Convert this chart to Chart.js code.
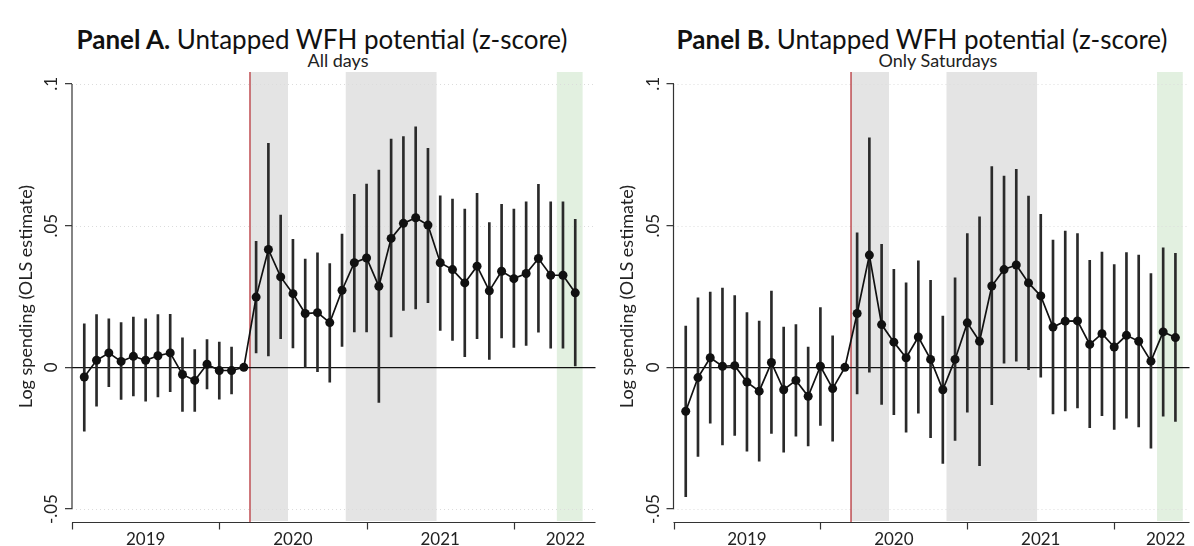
<!DOCTYPE html>
<html>
<head>
<meta charset="utf-8">
<script src="https://cdn.jsdelivr.net/npm/chart.js@4.4.1/dist/chart.umd.min.js"></script>
<style>
  body { margin: 0; background: #fff; width: 1194px; height: 546px; overflow: hidden; position: relative; font-family: Lato, sans-serif; color: #111; }
  .box { position: absolute; top: 0; height: 546px; }
  .title { position: absolute; top: 26px; font-size: 26px; line-height: 26px; white-space: nowrap; transform: translateX(-50%); }
  .title b { font-weight: 700; }
  .sub { position: absolute; top: 51px; font-size: 18px; line-height: 18px; white-space: nowrap; transform: translateX(-50%); color: #222; }
</style>
</head>
<body>
<div class="title" style="left:322px"><b>Panel A.</b> Untapped WFH potential (z-score)</div>
<div class="sub" style="left:338px">All days</div>
<div class="title" style="left:922px"><b>Panel B.</b> Untapped WFH potential (z-score)</div>
<div class="sub" style="left:938px">Only Saturdays</div>
<div class="box" style="left:0;width:600px"><canvas id="chartA"></canvas></div>
<div class="box" style="left:600px;width:594px"><canvas id="chartB"></canvas></div>
<script>
// months since Jan 2019 (0 = Jan 2019, 13 = Feb 2020 reference month)
var months = [0,1,2,3,4,5,6,7,8,9,10,11,12,13,14,15,16,17,18,19,20,
              21,22,23,24,25,26,27,28,29,30,31,32,33,34,35,36,37,38,39,40];

// Panel A: all days
var estA = [-0.0034,0.0025,0.0051,0.0021,0.0039,0.0025,0.0041,0.0051,-0.0025,-0.0046,0.0011,
            -0.0011,-0.0011,0,0.0248,0.0416,0.0319,0.0260,0.0190,0.0193,0.0158,
            0.0272,0.0369,0.0386,0.0286,0.0455,0.0508,0.0528,0.0502,0.0369,0.0345,
            0.0298,0.0357,0.0270,0.0339,0.0313,0.0331,0.0384,0.0325,0.0325,0.0263];
var loA = [-0.0225,-0.0137,-0.0068,-0.0113,-0.0101,-0.0119,-0.0104,-0.0086,-0.0155,-0.0155,-0.0076,
           -0.0112,-0.0094,null,0.0051,0.0040,0.0101,0.0069,-0.0001,-0.0015,-0.0052,
           0.0074,0.0125,0.0125,-0.0124,0.0107,0.0201,0.0206,0.0228,0.0130,0.0095,
           0.0038,0.0101,0.0028,0.0104,0.0070,0.0077,0.0124,0.0068,0.0068,0.0005];
var hiA = [0.0154,0.0186,0.0171,0.0158,0.0177,0.0171,0.0186,0.0187,0.0104,0.0063,0.0098,
           0.0089,0.0072,null,0.0445,0.0790,0.0537,0.0452,0.0382,0.0404,0.0366,
           0.0470,0.0610,0.0647,0.0696,0.0805,0.0814,0.0849,0.0773,0.0605,0.0594,
           0.0558,0.0614,0.0511,0.0575,0.0558,0.0584,0.0646,0.0584,0.0584,0.0522];

// Panel B: only Saturdays
var estB = [-0.0155,-0.0036,0.0034,0.0004,0.0006,-0.0052,-0.0084,0.0017,-0.0079,-0.0046,-0.0102,
            0.0004,-0.0075,0,0.0190,0.0396,0.0151,0.0089,0.0034,0.0107,0.0028,
            -0.0079,0.0028,0.0157,0.0092,0.0287,0.0345,0.0361,0.0298,0.0252,0.0142,
            0.0163,0.0164,0.0081,0.0119,0.0072,0.0113,0.0092,0.0022,0.0125,0.0105];
var loB = [-0.0456,-0.0314,-0.0197,-0.0274,-0.0240,-0.0296,-0.0331,-0.0233,-0.0299,-0.0243,-0.0277,
           -0.0205,-0.0260,null,-0.0094,-0.0017,-0.0131,-0.0167,-0.0229,-0.0162,-0.0248,
           -0.0339,-0.0258,-0.0158,-0.0347,-0.0132,0.0015,0.0022,-0.0008,-0.0035,-0.0164,
           -0.0154,-0.0143,-0.0213,-0.0170,-0.0219,-0.0179,-0.0210,-0.0285,-0.0172,-0.0191];
var hiB = [0.0146,0.0245,0.0266,0.0280,0.0253,0.0193,0.0163,0.0269,0.0142,0.0151,0.0072,
           0.0211,0.0111,null,0.0475,0.0810,0.0434,0.0346,0.0298,0.0376,0.0307,
           0.0181,0.0316,0.0472,0.0531,0.0708,0.0675,0.0699,0.0604,0.0540,0.0449,
           0.0481,0.0472,0.0378,0.0407,0.0363,0.0405,0.0396,0.0331,0.0422,0.0402];

// axes
var yTicks = [-0.05, 0, 0.05, 0.1];
var yTickText = ['-.05', '0', '.05', '.1'];
var yearLabels = ['2019', '2020', '2021', '2022'];
var yearTicks = [-1, 11, 23, 35];
var yearLabelPos = [5, 17, 29, 39.2];

// shaded periods (in months) and the March 2020 marker
var greyBands = [[13.5, 16.6], [21.3, 28.7]];
var greenBand = [38.5, 40.6];
var shockMonth = 13.5;

var FONT = 'Lato, sans-serif';

var panelDeco = {
    id: 'panelDeco',
    beforeDraw: function (chart) {
        var ctx = chart.ctx, a = chart.chartArea, x = chart.scales.x, y = chart.scales.y;
        ctx.save();
        ctx.fillStyle = '#e4e4e4';
        greyBands.forEach(function (b) {
            var x0 = x.getPixelForValue(b[0]), x1 = x.getPixelForValue(b[1]);
            ctx.fillRect(x0, a.top, x1 - x0, a.bottom - a.top);
        });
        ctx.fillStyle = '#e2f0e0';
        var g0 = x.getPixelForValue(greenBand[0]), g1 = x.getPixelForValue(greenBand[1]);
        ctx.fillRect(g0, a.top, g1 - g0, a.bottom - a.top);

        // faint dotted grid
        ctx.strokeStyle = '#dcdcdc';
        ctx.lineWidth = 1;
        ctx.setLineDash([1, 3]);
        yTicks.forEach(function (v) {
            if (v === 0) return;
            var py = Math.round(y.getPixelForValue(v)) + 0.5;
            ctx.beginPath();
            ctx.moveTo(a.left, py);
            ctx.lineTo(a.right, py);
            ctx.stroke();
        });
        ctx.setLineDash([]);

        // red marker line
        var px = x.getPixelForValue(shockMonth);
        ctx.fillStyle = '#b3262c';
        ctx.fillRect(px - 0.6, a.top, 1.2, a.bottom + 1 - a.top);
        ctx.restore();
    },
    afterDraw: function (chart) {
        var ctx = chart.ctx, a = chart.chartArea, x = chart.scales.x, y = chart.scales.y;
        ctx.save();
        ctx.strokeStyle = '#333';
        ctx.lineWidth = 1.2;

        // y axis line only between the outer ticks
        ctx.beginPath();
        ctx.moveTo(a.left, y.getPixelForValue(yTicks[yTicks.length - 1]));
        ctx.lineTo(a.left, y.getPixelForValue(yTicks[0]));
        ctx.stroke();

        // rotated y tick labels
        ctx.fillStyle = '#222';
        ctx.font = '17px ' + FONT;
        ctx.textAlign = 'center';
        ctx.textBaseline = 'middle';
        yTicks.forEach(function (v, i) {
            ctx.save();
            ctx.translate(a.left - 20, y.getPixelForValue(v));
            ctx.rotate(-Math.PI / 2);
            ctx.fillText(yTickText[i], 0, 0);
            ctx.restore();
        });

        // y title
        ctx.save();
        ctx.font = '18px ' + FONT;
        ctx.translate(a.left - 46, (y.getPixelForValue(yTicks[0]) + y.getPixelForValue(yTicks[yTicks.length - 1])) / 2);
        ctx.rotate(-Math.PI / 2);
        ctx.fillText('Log spending (OLS estimate)', 0, 0);
        ctx.restore();

        // year axis
        var base = a.bottom + 1.5;
        ctx.beginPath();
        ctx.moveTo(a.left, base);
        ctx.lineTo(a.right, base);
        ctx.stroke();
        yearTicks.forEach(function (v) {
            var px = Math.round(x.getPixelForValue(v)) + 0.5;
            ctx.beginPath();
            ctx.moveTo(px, base);
            ctx.lineTo(px, base + 7);
            ctx.stroke();
        });
        ctx.font = '17px ' + FONT;
        ctx.textBaseline = 'alphabetic';
        yearLabels.forEach(function (t, i) {
            ctx.fillText(t, x.getPixelForValue(yearLabelPos[i]), base + 22);
        });
        ctx.restore();
    }
};

function makePanel(id, est, lo, hi, xMax, axisWidth) {
    var bars = [], pts = [];
    months.forEach(function (m, i) {
        pts.push({ x: m, y: est[i] });
        if (lo[i] !== null) bars.push({ x: m, y: [lo[i], hi[i]] });
    });
    return new Chart(document.getElementById(id), {
        type: 'line',
        data: {
            datasets: [{
                type: 'line',
                data: pts,
                borderColor: '#111',
                borderWidth: 1.7,
                pointRadius: 4.5,
                pointBackgroundColor: '#111',
                pointBorderWidth: 0,
                tension: 0,
                order: 1
            }, {
                type: 'bar',
                data: bars,
                backgroundColor: '#2a2a2a',
                barThickness: 2,
                order: 2
            }]
        },
        options: {
            responsive: true,
            maintainAspectRatio: false,
            animation: false,
            events: [],
            layout: { padding: { top: 72, bottom: 25, left: 0, right: 0 } },
            plugins: { legend: { display: false }, tooltip: { enabled: false } },
            scales: {
                x: { type: 'linear', min: -1, max: xMax, offset: false, display: false },
                y: {
                    type: 'linear',
                    min: -0.0542,
                    max: 0.1042,
                    afterBuildTicks: function (s) { s.ticks = yTicks.map(function (v) { return { value: v }; }); },
                    afterFit: function (s) { s.width = axisWidth; },
                    ticks: { display: false },
                    border: { display: false },
                    grid: {
                        color: function (c) { return c.tick && c.tick.value === 0 ? '#111' : 'rgba(0,0,0,0)'; },
                        lineWidth: 1.3,
                        tickColor: '#333',
                        tickLength: 7,
                        tickWidth: 1.2
                    }
                }
            }
        },
        plugins: [panelDeco]
    });
}

makePanel('chartA', estA, loA, hiA, 41.65, 72);
makePanel('chartB', estB, loB, hiB, 41.15, 73.5);
</script>
</body>
</html>
